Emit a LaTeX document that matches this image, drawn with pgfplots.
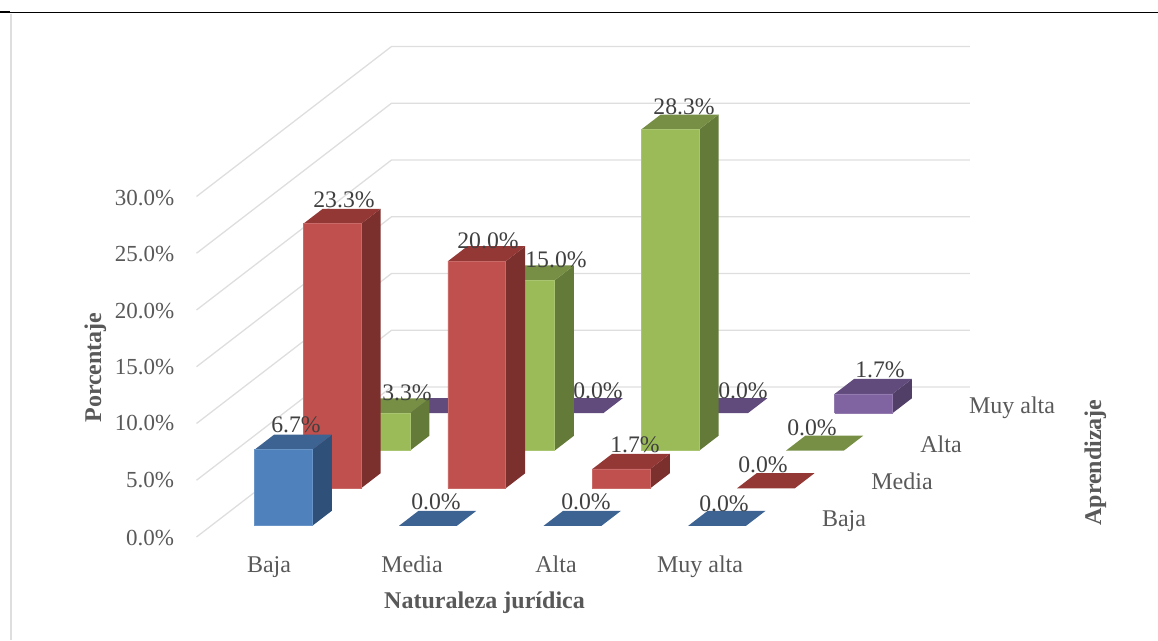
\documentclass[border=0pt]{standalone}
\usepackage{fontspec}
\setmainfont{Liberation Serif}
\usepackage{pgfplots}
\pgfplotsset{compat=1.18}

\definecolor{gridc}{HTML}{DEDEDE}
\definecolor{axc}{HTML}{595959}
\definecolor{labc}{HTML}{404040}
\definecolor{bluef}{HTML}{4F81BD}\definecolor{blues}{HTML}{2F5078}\definecolor{bluet}{HTML}{3C6391}
\definecolor{redf}{HTML}{C0504D}\definecolor{reds}{HTML}{7C302E}\definecolor{redt}{HTML}{943836}
\definecolor{greenf}{HTML}{9BBB59}\definecolor{greens}{HTML}{647A39}\definecolor{greent}{HTML}{778F45}
\definecolor{purplef}{HTML}{8064A2}\definecolor{purples}{HTML}{523F68}\definecolor{purplet}{HTML}{614A7C}

% column, row, value, colour prefix
\newcommand{\colbar}[4]{%
  \pgfmathsetmacro\xa{#1+0.3}\pgfmathsetmacro\xb{#1+0.7}%
  \pgfmathsetmacro\ya{#2+0.3}\pgfmathsetmacro\yb{#2+0.7}%
  \addplot3[fill=#4s,draw=none] coordinates {(\xb,\ya,0)(\xb,\yb,0)(\xb,\yb,#3)(\xb,\ya,#3)};
  \addplot3[fill=#4t,draw=none] coordinates {(\xa,\ya,#3)(\xb,\ya,#3)(\xb,\yb,#3)(\xa,\yb,#3)};
  \addplot3[fill=#4f,draw=#4f!85!white,line width=0.7pt] coordinates {(\xa,\ya,0)(\xb,\ya,0)(\xb,\ya,#3)(\xa,\ya,#3)(\xa,\ya,0)};
}
\newcommand{\flatbar}[3]{%
  \pgfmathsetmacro\xa{#1+0.3}\pgfmathsetmacro\xb{#1+0.7}%
  \pgfmathsetmacro\ya{#2+0.3}\pgfmathsetmacro\yb{#2+0.7}%
  \addplot3[fill=#3t,draw=none] coordinates {(\xa,\ya,0)(\xb,\ya,0)(\xb,\yb,0)(\xa,\yb,0)};
}
% x, baseline y in image pixels, text
\newcommand{\tx}[4][axc]{\node[anchor=base,inner sep=0pt,text=#1] at (#2pt,{(640-#3)*1pt}) {#4};}

\begin{document}
\begin{tikzpicture}[x=1pt,y=1pt]
\useasboundingbox (0,0) rectangle (1158,640);
\begin{axis}[
  at={(196.5pt,103pt)},anchor=origin,
  x={(144.6pt,0pt)},y={(48.75pt,37.5pt)},z={(0pt,11.35pt)},
  xmin=0,xmax=4,ymin=0,ymax=4,zmin=0,zmax=30,
  hide axis,clip=false]
\pgfplotsinvokeforeach{0,5,10,15,20,25,30}{
  \addplot3[gridc,line width=1.3pt,no marks] coordinates {(0,0,#1)(0,4,#1)(4,4,#1)};
}
% Muy alta
\flatbar{0}{3}{purple}
\flatbar{1}{3}{purple}
\flatbar{2}{3}{purple}
\colbar{3}{3}{1.7}{purple}
% Alta
\colbar{0}{2}{3.3}{green}
\colbar{1}{2}{15.0}{green}
\colbar{2}{2}{28.3}{green}
\flatbar{3}{2}{green}
% Media
\colbar{0}{1}{23.3}{red}
\colbar{1}{1}{20.0}{red}
\colbar{2}{1}{1.7}{red}
\flatbar{3}{1}{red}
% Baja
\colbar{0}{0}{6.7}{blue}
\flatbar{1}{0}{blue}
\flatbar{2}{0}{blue}
\flatbar{3}{0}{blue}
\end{axis}
\draw[gridc,line width=1.1pt] (11,626)--(11,0);
\draw[black,line width=1.2pt] (0,627.5)--(1158,627.5);
\draw[black,line width=2pt] (0,627.5)--(10,627.5);
\fontsize{23}{27}\selectfont
\tx{144.5}{205.5}{30.0\%}
\tx{144.5}{261.5}{25.0\%}
\tx{144.5}{318.5}{20.0\%}
\tx{144.5}{374.5}{15.0\%}
\tx{144.5}{430.5}{10.0\%}
\tx{150}{487.5}{5.0\%}
\tx{150}{545.5}{0.0\%}
\fontsize{24}{28}\selectfont
\tx{269}{572}{Baja}
\tx{412}{572}{Media}
\tx{556}{572}{Alta}
\tx{700}{572}{Muy alta}
\tx{844}{526}{Baja}
\tx{902}{489}{Media}
\tx{941}{452}{Alta}
\tx{1012}{414}{Muy alta}
\fontsize{23.7}{28}\selectfont
\tx[labc]{296}{432.5}{6.7\%}
\tx[labc]{344}{207.5}{23.3\%}
\tx[labc]{407}{400.5}{3.3\%}
\tx[labc]{488}{248.5}{20.0\%}
\tx[labc]{556}{267.5}{15.0\%}
\tx[labc]{598}{398.5}{0.0\%}
\tx[labc]{684}{114.5}{28.3\%}
\tx[labc]{743}{398.5}{0.0\%}
\tx[labc]{880}{377.5}{1.7\%}
\tx[labc]{812}{435.5}{0.0\%}
\tx[labc]{763}{472.5}{0.0\%}
\tx[labc]{724}{511}{0.0\%}
\tx[labc]{436}{509}{0.0\%}
\tx[labc]{586}{509}{0.0\%}
\tx[labc]{635}{453}{1.7\%}
\fontsize{24}{28}\selectfont
\node[anchor=base,inner sep=0pt,text=axc,font=\bfseries] at (484.5pt,32pt) {Naturaleza jurídica};
\node[anchor=base,inner sep=0pt,text=axc,font=\bfseries,rotate=90] at (101pt,272.5pt) {Porcentaje};
\node[anchor=base,inner sep=0pt,text=axc,font=\bfseries,rotate=90] at (1101pt,177.5pt) {Aprendizaje};
\end{tikzpicture}
\end{document}
